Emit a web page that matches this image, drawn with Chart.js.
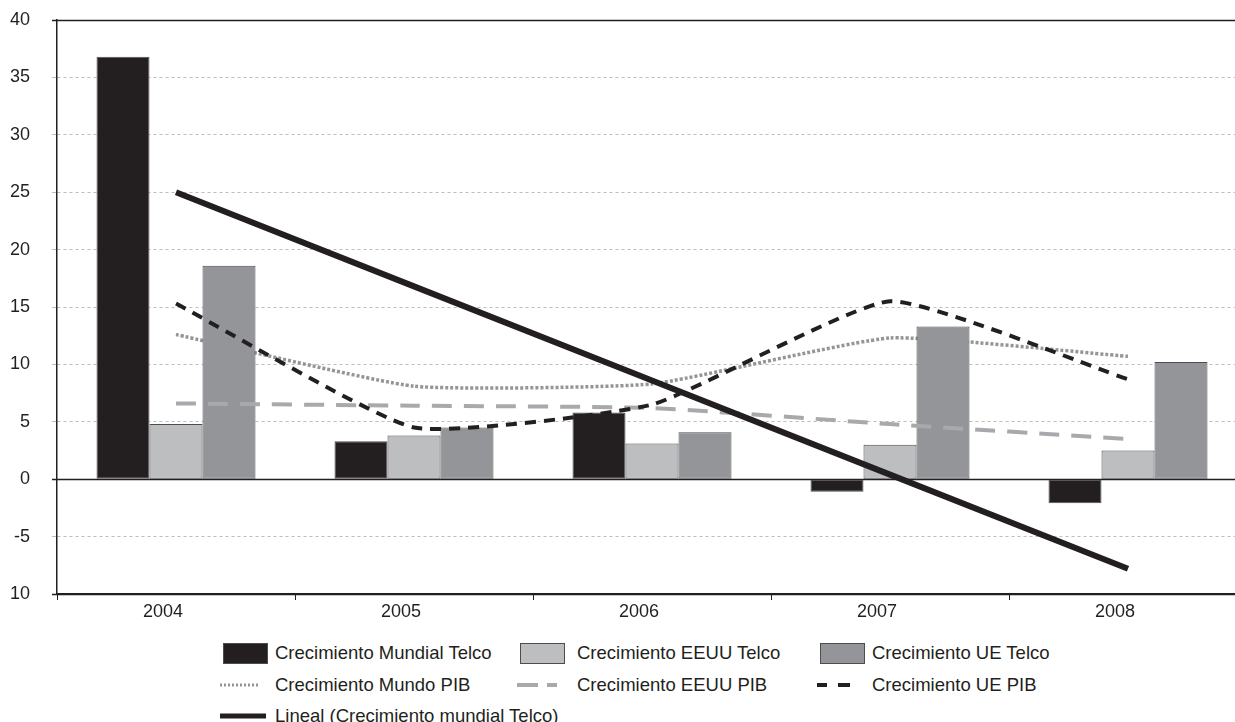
<!DOCTYPE html>
<html>
<head>
<meta charset="utf-8">
<script src="https://cdn.jsdelivr.net/npm/chart.js@4.4.1/dist/chart.umd.min.js"></script>
<style>
  html, body { margin: 0; padding: 0; background: #fff; overflow: hidden; width: 1235px; height: 722px; }
  #wrap { position: absolute; left: 0; top: 0; width: 1247px; height: 630px; }
  #legend { position: absolute; left: 0; top: 0; font-family: "Liberation Sans", Arial, sans-serif; font-size: 18.5px; color: #231f20; }
  .item { position: absolute; height: 24px; line-height: 24px; white-space: nowrap; }
  .item svg { position: absolute; left: 0; top: 0; }
  .item span { position: absolute; top: 0; }
</style>
</head>
<body>
<div id="wrap"><canvas id="chart" width="1247" height="630"></canvas></div>
<div id="legend"></div>
<script>
const years = ['2004', '2005', '2006', '2007', '2008'];
const yTickLabels = { 40: '40', 35: '35', 30: '30', 25: '25', 20: '20', 15: '15', 10: '10', 5: '5', 0: '0', '-5': '-5', '-10': '10' };

const mundialTelco = [36.8, 3.3, 5.8, -1.1, -2.1];
const eeuuTelco = [4.8, 3.8, 3.1, 3.0, 2.5];
const ueTelco = [18.6, 4.5, 4.1, 13.3, 10.2];
const mundoPib = [12.6, 8.1, 8.3, 12.3, 10.7];
const eeuuPib = [6.6, 6.4, 6.2, 4.8, 3.5];
const uePib = [15.3, 4.5, 6.5, 15.5, 8.7];
const linealTelco = [25.0, 16.8, 8.6, 0.4, -7.8];

const ink = '#231f20';
const font = { family: '"Liberation Sans", Arial, sans-serif', size: 18 };

// solid lines at top, zero and bottom, reaching past the axis like the ticks
const solidLines = {
  id: 'solidLines',
  beforeDatasetsDraw(chart) {
    const { ctx, chartArea, scales } = chart;
    ctx.save();
    ctx.strokeStyle = ink;
    ctx.lineWidth = 1.5;
    [40, 0, -10].forEach(v => {
      const y = Math.round(scales.y.getPixelForValue(v)) + 0.5;
      ctx.beginPath();
      ctx.moveTo(chartArea.left - 5, y);
      ctx.lineTo(chartArea.right, y);
      ctx.stroke();
    });
    ctx.restore();
  }
};

const barStyle = { borderColor: '#4d4d4f', borderWidth: 1, borderSkipped: false };

const chart = new Chart(document.getElementById('chart').getContext('2d'), {
  type: 'bar',
  data: {
    labels: years,
    datasets: [
      { type: 'line', label: 'Lineal (Crecimiento mundial Telco)', data: linealTelco, borderColor: ink, borderWidth: 6, tension: 0, pointRadius: 0, order: 0 },
      { type: 'line', label: 'Crecimiento UE PIB', data: uePib, borderColor: ink, borderWidth: 4, borderDash: [11, 8], tension: 0.15, pointRadius: 0, order: 1 },
      { type: 'line', label: 'Crecimiento EEUU PIB', data: eeuuPib, borderColor: '#a7a9ac', borderWidth: 4, borderDash: [20, 12], tension: 0.15, pointRadius: 0, order: 2 },
      { label: 'Crecimiento Mundial Telco', data: mundialTelco, backgroundColor: ink, ...barStyle, order: 3 },
      { label: 'Crecimiento EEUU Telco', data: eeuuTelco, backgroundColor: '#bcbec0', ...barStyle, order: 3 },
      { label: 'Crecimiento UE Telco', data: ueTelco, backgroundColor: '#939598', ...barStyle, order: 3 },
      { type: 'line', label: 'Crecimiento Mundo PIB', data: mundoPib, borderColor: '#939598', borderWidth: 3.5, borderDash: [3, 2], tension: 0.15, pointRadius: 0, order: 4 }
    ]
  },
  options: {
    responsive: false,
    animation: false,
    categoryPercentage: 0.668,
    barPercentage: 1,
    layout: { padding: { top: 20, left: 0, right: 0, bottom: 0 } },
    plugins: { legend: { display: false }, tooltip: { enabled: false } },
    scales: {
      x: {
        grid: { display: true, drawOnChartArea: false, drawTicks: true, tickLength: 6, tickColor: ink, offset: true },
        border: { color: ink, width: 1.5 },
        ticks: { color: ink, font: font, padding: 1, labelOffset: -13, maxRotation: 0 },
        afterFit: s => { s.height = 36; }
      },
      y: {
        min: -10, max: 40,
        grid: { color: '#bdbdbd', lineWidth: 1, tickLength: 5, tickColor: '#bdbdbd' },
        border: { color: ink, width: 1.5, dash: [3, 3] },
        ticks: { stepSize: 5, color: ink, font: font, padding: 22, callback: v => yTickLabels[v] },
        afterFit: s => { s.width = 57; s.paddingTop = 0; s.paddingBottom = 0; }
      }
    }
  },
  plugins: [solidLines]
});

// legend, three columns like the original
const legendItems = [
  { label: 'Crecimiento Mundial Telco', kind: 'box', fill: ink, col: 0, row: 0 },
  { label: 'Crecimiento EEUU Telco', kind: 'box', fill: '#bcbec0', col: 1, row: 0 },
  { label: 'Crecimiento UE Telco', kind: 'box', fill: '#939598', col: 2, row: 0 },
  { label: 'Crecimiento Mundo PIB', kind: 'dots', col: 0, row: 1 },
  { label: 'Crecimiento EEUU PIB', kind: 'grayDash', col: 1, row: 1 },
  { label: 'Crecimiento UE PIB', kind: 'blackDash', col: 2, row: 1 },
  { label: 'Lineal (Crecimiento mundial Telco)', kind: 'solid', col: 0, row: 2 }
];
const colX = [220, 517, 817];
const textX = [55, 60, 55];
const rowY = [653, 685, 716];

const legend = document.getElementById('legend');
legendItems.forEach(it => {
  const d = document.createElement('div');
  d.className = 'item';
  d.style.left = colX[it.col] + 'px';
  d.style.top = (rowY[it.row] - 12) + 'px';
  let svg = '';
  if (it.kind === 'box') {
    svg = `<rect x="3.5" y="2.5" width="44" height="20" fill="${it.fill}" stroke="#4d4d4f" stroke-width="1"/>`;
  } else if (it.kind === 'dots') {
    svg = `<line x1="0" y1="12" x2="40" y2="12" stroke="#939598" stroke-width="3" stroke-dasharray="2 2"/>`;
  } else if (it.kind === 'grayDash') {
    svg = `<line x1="0" y1="12" x2="21" y2="12" stroke="#a7a9ac" stroke-width="4"/><line x1="30" y1="12" x2="40" y2="12" stroke="#a7a9ac" stroke-width="4"/>`;
  } else if (it.kind === 'blackDash') {
    svg = `<line x1="0" y1="12" x2="10" y2="12" stroke="${ink}" stroke-width="4"/><line x1="21" y1="12" x2="33" y2="12" stroke="${ink}" stroke-width="4"/>`;
  } else {
    svg = `<line x1="0" y1="12" x2="46" y2="12" stroke="${ink}" stroke-width="5"/>`;
  }
  d.innerHTML = `<svg width="50" height="24">${svg}</svg><span style="left:${textX[it.col]}px">${it.label}</span>`;
  legend.appendChild(d);
});
</script>
</body>
</html>
